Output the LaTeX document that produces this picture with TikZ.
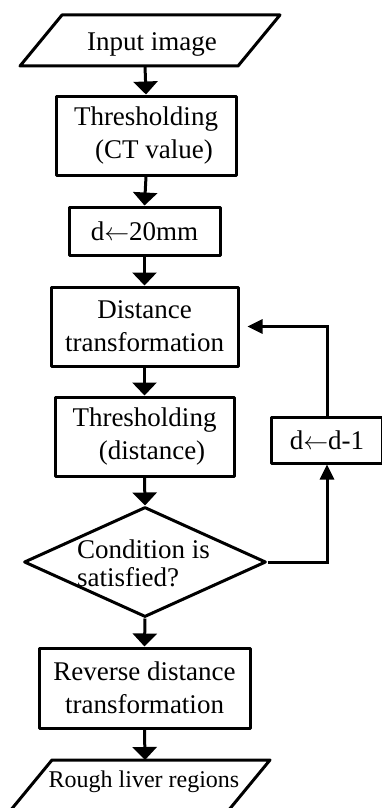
\documentclass[tikz,border=0pt]{standalone}
\usepackage{fontspec}
\setmainfont{Liberation Serif}
\usetikzlibrary{arrows.meta,shapes.geometric}
\begin{document}
\begin{tikzpicture}[x=1pt,y=-1pt,
  box/.style={draw, line width=3pt, line join=round, inner sep=0pt, align=center, font=\fontsize{27}{33}\selectfont},
  txt/.style={inner sep=0pt, align=center, font=\fontsize{27}{33}\selectfont},
  flow/.style={line width=3pt, -{Triangle[width=24pt,length=13pt]}},
  back/.style={line width=3pt, -{Triangle[width=14pt,length=15pt]}},
  para/.style={draw, line width=3pt, line join=round},
  dia/.style={draw, diamond, line width=3pt, line join=round, inner sep=0pt, minimum width=242pt, minimum height=110pt, shape aspect=2.2}]
\clip (0,0) rectangle (382,808);
% input parallelogram
\draw[para] (62,15) -- (280,15) -- (238,66) -- (20,66) -- cycle;
\node[txt] (in) at (152,44) {Input image};
\coordinate (inb) at (145,66);
% boxes
\node[box, minimum width=180pt, minimum height=79pt] (t1) at (146,135.5) {Thresholding\\\hspace*{16pt}(CT value)};
\node[box, minimum width=151pt, minimum height=48pt] (d20) at (144.5,231) {d$\leftarrow$20mm};
\node[box, minimum width=187pt, minimum height=79pt] (dist) at (144.5,326.5) {Distance\\transformation};
\node[box, minimum width=179pt, minimum height=79pt] (t2) at (144.5,436.5) {Thresholding\\\hspace*{15pt}(distance)};
\node[dia] (cond) at (145,562) {};
\node[txt, align=left, anchor=west, font=\fontsize{27}{28}\selectfont] (condt) at (77,563) {Condition is\\satisfied?};
\node[box, minimum width=211pt, minimum height=80pt] (rev) at (144.5,688) {Reverse distance\\transformation};
\node[box, minimum width=111pt, minimum height=46pt] (dd1) at (327,440) {d$\leftarrow$d-1};
% output parallelogram
\draw[para] (52,760) -- (270,760) -- (228,811) -- (10,811) -- cycle;
\node[txt, font=\fontsize{24}{28}\selectfont] (out) at (144,782) {Rough liver regions};
\coordinate (outt) at (145,760);
% connectors
\draw[flow] (inb) -- (t1.north);
\draw[flow] (t1.south) -- (d20.north);
\draw[flow] (d20.south) -- (dist.north);
\draw[flow] (dist.south) -- (t2.north);
\draw[flow] (t2.south) -- (cond.north);
\draw[flow] (cond.south) -- (rev.north);
\draw[flow] (rev.south) -- (outt);
\draw[back] (cond.east) -| (dd1.south);
\draw[back, shorten >=8pt] (dd1.north) |- (dist.east);
\end{tikzpicture}
\end{document}
